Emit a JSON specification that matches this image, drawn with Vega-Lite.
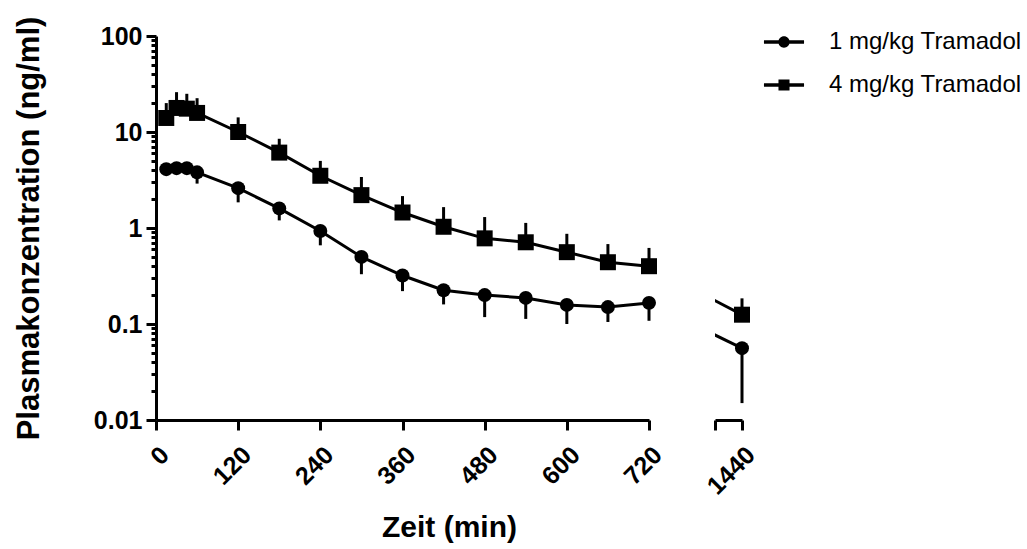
{
  "$schema": "https://vega.github.io/schema/vega-lite/v6.json",
  "padding": {"left": 13, "top": 16, "right": 0, "bottom": 0},
  "bounds": "flush",
  "spacing": 66,
  "config": {
    "font": "Liberation Sans",
    "view": {"stroke": null},
    "axis": {"grid": false, "domainColor": "black", "tickColor": "black", "labelColor": "black", "titleColor": "black", "domainWidth": 3, "tickWidth": 3, "labelFont": "Liberation Sans", "titleFont": "Liberation Sans", "labelFontWeight": "bold", "titleFontWeight": "bold", "labelFontSize": 25}
  },
  "datasets": {
    "pk": [
      {"t": 15, "group": "1 mg/kg Tramadol", "mean": 4.1, "err": 4.0},
      {"t": 30, "group": "1 mg/kg Tramadol", "mean": 4.2, "err": 3.8},
      {"t": 45, "group": "1 mg/kg Tramadol", "mean": 4.2, "err": 3.8},
      {"t": 60, "group": "1 mg/kg Tramadol", "mean": 3.8, "err": 2.9},
      {"t": 120, "group": "1 mg/kg Tramadol", "mean": 2.6, "err": 1.85},
      {"t": 180, "group": "1 mg/kg Tramadol", "mean": 1.6, "err": 1.2},
      {"t": 240, "group": "1 mg/kg Tramadol", "mean": 0.93, "err": 0.66},
      {"t": 300, "group": "1 mg/kg Tramadol", "mean": 0.5, "err": 0.33},
      {"t": 360, "group": "1 mg/kg Tramadol", "mean": 0.32, "err": 0.22},
      {"t": 420, "group": "1 mg/kg Tramadol", "mean": 0.225, "err": 0.16},
      {"t": 480, "group": "1 mg/kg Tramadol", "mean": 0.2, "err": 0.118},
      {"t": 540, "group": "1 mg/kg Tramadol", "mean": 0.187, "err": 0.113},
      {"t": 600, "group": "1 mg/kg Tramadol", "mean": 0.158, "err": 0.1},
      {"t": 660, "group": "1 mg/kg Tramadol", "mean": 0.15, "err": 0.105},
      {"t": 720, "group": "1 mg/kg Tramadol", "mean": 0.166, "err": 0.108},
      {"t": 1440, "group": "1 mg/kg Tramadol", "mean": 0.056, "err": 0.015},
      {"t": 15, "group": "4 mg/kg Tramadol", "mean": 14.0, "err": 20},
      {"t": 30, "group": "4 mg/kg Tramadol", "mean": 17.8, "err": 26},
      {"t": 45, "group": "4 mg/kg Tramadol", "mean": 17.5, "err": 25},
      {"t": 60, "group": "4 mg/kg Tramadol", "mean": 15.8, "err": 22.5},
      {"t": 120, "group": "4 mg/kg Tramadol", "mean": 10, "err": 14.2},
      {"t": 180, "group": "4 mg/kg Tramadol", "mean": 6.1, "err": 8.5},
      {"t": 240, "group": "4 mg/kg Tramadol", "mean": 3.5, "err": 5},
      {"t": 300, "group": "4 mg/kg Tramadol", "mean": 2.2, "err": 3.4},
      {"t": 360, "group": "4 mg/kg Tramadol", "mean": 1.45, "err": 2.15},
      {"t": 420, "group": "4 mg/kg Tramadol", "mean": 1.03, "err": 1.65},
      {"t": 480, "group": "4 mg/kg Tramadol", "mean": 0.78, "err": 1.3},
      {"t": 540, "group": "4 mg/kg Tramadol", "mean": 0.71, "err": 1.13},
      {"t": 600, "group": "4 mg/kg Tramadol", "mean": 0.56, "err": 0.87},
      {"t": 660, "group": "4 mg/kg Tramadol", "mean": 0.44, "err": 0.68},
      {"t": 720, "group": "4 mg/kg Tramadol", "mean": 0.4, "err": 0.62},
      {"t": 1440, "group": "4 mg/kg Tramadol", "mean": 0.125, "err": 0.185}
    ]
  },
  "resolve": {"scale": {"x": "independent", "y": "shared"}},
  "hconcat": [
    {
      "width": 493,
      "height": 384,
      "data": {"name": "pk"},
      "encoding": {
        "x": {"field": "t", "type": "quantitative", "scale": {"domain": [0, 720], "nice": false, "zero": false},
          "axis": {"values": [0, 120, 240, 360, 480, 600, 720], "labelAngle": -45, "tickSize": 10, "labelPadding": 12, "title": "Zeit (min)", "titleFontSize": 30, "titlePadding": 23, "titleX": 293, "labelOverlap": false}},
        "y": {"field": "mean", "type": "quantitative", "scale": {"type": "log", "domain": [0.01, 100], "nice": false},
          "axis": {
            "values": [0.01, 0.02, 0.03, 0.04, 0.05, 0.06, 0.07, 0.08, 0.09, 0.1, 0.2, 0.3, 0.4, 0.5, 0.6, 0.7, 0.8, 0.9, 1, 2, 3, 4, 5, 6, 7, 8, 9, 10, 20, 30, 40, 50, 60, 70, 80, 90, 100],
            "format": "~g",
            "labelExpr": "indexof([0.01,0.1,1,10,100], datum.value) >= 0 ? datum.label : ''",
            "tickSize": {"condition": {"test": "indexof([0.01,0.1,1,10,100], datum.value) >= 0", "value": 10}, "value": 5},
            "labelPadding": 4,
            "labelOverlap": false,
            "title": "Plasmakonzentration (ng/ml)",
            "titleFontSize": 31,
            "titlePadding": 48
          }}
      },
      "layer": [
        {"transform": [{"filter": "datum.t <= 720"}], "mark": {"type": "rule", "strokeWidth": 3, "color": "black"}, "encoding": {"y2": {"field": "err"}}},
        {"transform": [{"filter": "datum.t <= 720"}], "mark": {"type": "line", "strokeWidth": 3, "color": "black", "clip": true}, "encoding": {"detail": {"field": "group"}}},
        {"transform": [{"filter": "datum.t <= 720 && datum.group == '1 mg/kg Tramadol'"}], "mark": {"type": "point", "shape": "circle", "filled": true, "size": 195, "color": "black", "opacity": 1}, "encoding": {}},
        {"transform": [{"filter": "datum.t <= 720 && datum.group == '4 mg/kg Tramadol'"}], "mark": {"type": "point", "shape": "square", "filled": true, "size": 256, "color": "black", "opacity": 1}, "encoding": {}},
        {"transform": [{"filter": "datum.t < 0"}], "mark": {"type": "point", "filled": true, "size": 576, "color": "black", "opacity": 1},
          "encoding": {"shape": {"field": "group", "type": "nominal",
            "scale": {"domain": ["1 mg/kg Tramadol", "4 mg/kg Tramadol"], "range": ["M-1.67,-0.14H1.67V0.14H-1.67Z M-0.47,0A0.47,0.47 0 1,1 0.47,0A0.47,0.47 0 1,1 -0.47,0Z", "M-1.67,-0.14H1.67V0.14H-1.67Z M-0.46,-0.46H0.46V0.46H-0.46Z"]},
            "legend": {"title": null, "orient": "none", "legendX": 616, "legendY": -6, "symbolSize": 576, "labelFontSize": 24, "labelFont": "Liberation Sans", "labelFontWeight": "normal", "labelColor": "black", "labelOffset": 33, "rowPadding": 19, "symbolStrokeWidth": 0, "symbolFillColor": "black", "labelLimit": 400}}}}
      ]
    },
    {
      "width": 27,
      "height": 384,
      "data": {"name": "pk"},
      "encoding": {
        "x": {"field": "t", "type": "quantitative", "scale": {"domain": [1231, 1440], "nice": false, "zero": false},
          "axis": {"values": [1231, 1440], "labelExpr": "datum.value == 1440 ? '1440' : ''", "labelAngle": -45, "tickSize": 10, "labelPadding": 12, "title": null, "labelOverlap": false}},
        "y": {"field": "mean", "type": "quantitative", "scale": {"type": "log", "domain": [0.01, 100], "nice": false}, "axis": null}
      },
      "layer": [
        {"transform": [{"filter": "datum.t == 1440"}], "mark": {"type": "rule", "strokeWidth": 3, "color": "black"}, "encoding": {"y2": {"field": "err"}}},
        {"transform": [{"filter": "datum.t >= 720"}], "mark": {"type": "line", "strokeWidth": 3, "color": "black", "clip": true}, "encoding": {"detail": {"field": "group"}}},
        {"transform": [{"filter": "datum.t == 1440 && datum.group == '1 mg/kg Tramadol'"}], "mark": {"type": "point", "shape": "circle", "filled": true, "size": 195, "color": "black", "opacity": 1}, "encoding": {}},
        {"transform": [{"filter": "datum.t == 1440 && datum.group == '4 mg/kg Tramadol'"}], "mark": {"type": "point", "shape": "square", "filled": true, "size": 256, "color": "black", "opacity": 1}, "encoding": {}}
      ]
    }
  ]
}
